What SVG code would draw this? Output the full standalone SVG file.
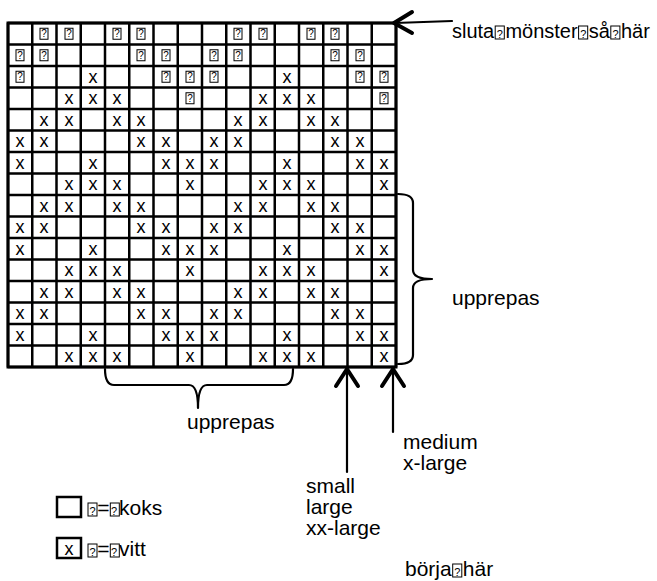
<svg xmlns="http://www.w3.org/2000/svg" width="657" height="581" viewBox="0 0 657 581">
<style>
.bg{fill:#fff}
.grid{fill:none;stroke:#000;stroke-width:2.5}
.x{font-family:"Liberation Sans","DejaVu Sans",sans-serif;font-size:18px;text-anchor:middle;fill:#000}
.tq{font-family:"Liberation Sans","DejaVu Sans",sans-serif;font-size:10px;text-anchor:middle;fill:#000}
.tb{fill:none;stroke:#000;stroke-width:1}
.lbl{font-family:"Liberation Sans","DejaVu Sans",sans-serif;font-size:21px;fill:#000}
.q{font-size:11px}
.ln{fill:none;stroke:#000;stroke-width:2.2;stroke-linecap:round;stroke-linejoin:round}
.hd{fill:none;stroke:#000;stroke-width:4;stroke-linecap:round;stroke-linejoin:round}
</style>
<defs>
<g id="tofu"><rect class="tb" x="-4" y="-5.5" width="8" height="11"/><text class="tq" x="0" y="3.5">?</text></g>
</defs>
<rect class="bg" width="657" height="581"/>
<g id="grid">
<path class="grid" d="M8,23V367M32.25,23V367M56.5,23V367M80.75,23V367M105,23V367M129.25,23V367M153.5,23V367M177.75,23V367M202,23V367M226.25,23V367M250.5,23V367M274.75,23V367M299,23V367M323.25,23V367M347.5,23V367M371.75,23V367M396,23V367"/>
<path class="grid" d="M8,23H396M8,44.5H396M8,66H396M8,87.5H396M8,109H396M8,130.5H396M8,152H396M8,173.5H396M8,195H396M8,216.5H396M8,238H396M8,259.5H396M8,281H396M8,302.5H396M8,324H396M8,345.5H396M8,367H396"/>
<rect x="8" y="23" width="388" height="344" fill="none" stroke="#000" stroke-width="3"/>
</g>
<g id="marks">
<!-- row 0 -->
<use href="#tofu" x="44" y="33.75"/><use href="#tofu" x="69" y="33.75"/><use href="#tofu" x="117" y="33.75"/><use href="#tofu" x="141" y="33.75"/><use href="#tofu" x="238" y="33.75"/><use href="#tofu" x="263" y="33.75"/><use href="#tofu" x="311" y="33.75"/><use href="#tofu" x="335" y="33.75"/>
<!-- row 1 -->
<use href="#tofu" x="20" y="55.25"/><use href="#tofu" x="44" y="55.25"/><use href="#tofu" x="141" y="55.25"/><use href="#tofu" x="166" y="55.25"/><use href="#tofu" x="214" y="55.25"/><use href="#tofu" x="238" y="55.25"/><use href="#tofu" x="335" y="55.25"/><use href="#tofu" x="360" y="55.25"/>
<!-- row 2 -->
<use href="#tofu" x="20" y="76.75"/><text class="x" x="93" y="82.5">x</text><use href="#tofu" x="166" y="76.75"/><use href="#tofu" x="190" y="76.75"/><use href="#tofu" x="214" y="76.75"/><text class="x" x="287" y="82.5">x</text><use href="#tofu" x="360" y="76.75"/><use href="#tofu" x="384" y="76.75"/>
<!-- row 3 -->
<text class="x" x="69" y="104">x</text><text class="x" x="93" y="104">x</text><text class="x" x="117" y="104">x</text><use href="#tofu" x="190" y="98.25"/><text class="x" x="263" y="104">x</text><text class="x" x="287" y="104">x</text><text class="x" x="311" y="104">x</text><use href="#tofu" x="384" y="98.25"/>
<!-- row 4 A -->
<text class="x" x="44" y="125.5">x</text><text class="x" x="69" y="125.5">x</text><text class="x" x="117" y="125.5">x</text><text class="x" x="141" y="125.5">x</text><text class="x" x="238" y="125.5">x</text><text class="x" x="263" y="125.5">x</text><text class="x" x="311" y="125.5">x</text><text class="x" x="335" y="125.5">x</text>
<!-- row 5 B -->
<text class="x" x="20" y="147">x</text><text class="x" x="44" y="147">x</text><text class="x" x="141" y="147">x</text><text class="x" x="166" y="147">x</text><text class="x" x="214" y="147">x</text><text class="x" x="238" y="147">x</text><text class="x" x="335" y="147">x</text><text class="x" x="360" y="147">x</text>
<!-- row 6 C -->
<text class="x" x="20" y="168.5">x</text><text class="x" x="93" y="168.5">x</text><text class="x" x="166" y="168.5">x</text><text class="x" x="190" y="168.5">x</text><text class="x" x="214" y="168.5">x</text><text class="x" x="287" y="168.5">x</text><text class="x" x="360" y="168.5">x</text><text class="x" x="384" y="168.5">x</text>
<!-- row 7 D -->
<text class="x" x="69" y="190">x</text><text class="x" x="93" y="190">x</text><text class="x" x="117" y="190">x</text><text class="x" x="190" y="190">x</text><text class="x" x="263" y="190">x</text><text class="x" x="287" y="190">x</text><text class="x" x="311" y="190">x</text><text class="x" x="384" y="190">x</text>
<!-- row 8 A -->
<text class="x" x="44" y="211.5">x</text><text class="x" x="69" y="211.5">x</text><text class="x" x="117" y="211.5">x</text><text class="x" x="141" y="211.5">x</text><text class="x" x="238" y="211.5">x</text><text class="x" x="263" y="211.5">x</text><text class="x" x="311" y="211.5">x</text><text class="x" x="335" y="211.5">x</text>
<!-- row 9 B -->
<text class="x" x="20" y="233">x</text><text class="x" x="44" y="233">x</text><text class="x" x="141" y="233">x</text><text class="x" x="166" y="233">x</text><text class="x" x="214" y="233">x</text><text class="x" x="238" y="233">x</text><text class="x" x="335" y="233">x</text><text class="x" x="360" y="233">x</text>
<!-- row 10 C -->
<text class="x" x="20" y="254.5">x</text><text class="x" x="93" y="254.5">x</text><text class="x" x="166" y="254.5">x</text><text class="x" x="190" y="254.5">x</text><text class="x" x="214" y="254.5">x</text><text class="x" x="287" y="254.5">x</text><text class="x" x="360" y="254.5">x</text><text class="x" x="384" y="254.5">x</text>
<!-- row 11 D -->
<text class="x" x="69" y="276">x</text><text class="x" x="93" y="276">x</text><text class="x" x="117" y="276">x</text><text class="x" x="190" y="276">x</text><text class="x" x="263" y="276">x</text><text class="x" x="287" y="276">x</text><text class="x" x="311" y="276">x</text><text class="x" x="384" y="276">x</text>
<!-- row 12 A -->
<text class="x" x="44" y="297.5">x</text><text class="x" x="69" y="297.5">x</text><text class="x" x="117" y="297.5">x</text><text class="x" x="141" y="297.5">x</text><text class="x" x="238" y="297.5">x</text><text class="x" x="263" y="297.5">x</text><text class="x" x="311" y="297.5">x</text><text class="x" x="335" y="297.5">x</text>
<!-- row 13 B -->
<text class="x" x="20" y="319">x</text><text class="x" x="44" y="319">x</text><text class="x" x="141" y="319">x</text><text class="x" x="166" y="319">x</text><text class="x" x="214" y="319">x</text><text class="x" x="238" y="319">x</text><text class="x" x="335" y="319">x</text><text class="x" x="360" y="319">x</text>
<!-- row 14 C -->
<text class="x" x="20" y="340.5">x</text><text class="x" x="93" y="340.5">x</text><text class="x" x="166" y="340.5">x</text><text class="x" x="190" y="340.5">x</text><text class="x" x="214" y="340.5">x</text><text class="x" x="287" y="340.5">x</text><text class="x" x="360" y="340.5">x</text><text class="x" x="384" y="340.5">x</text>
<!-- row 15 D -->
<text class="x" x="69" y="362">x</text><text class="x" x="93" y="362">x</text><text class="x" x="117" y="362">x</text><text class="x" x="190" y="362">x</text><text class="x" x="263" y="362">x</text><text class="x" x="287" y="362">x</text><text class="x" x="311" y="362">x</text><text class="x" x="384" y="362">x</text>
</g>
<g id="connectors">
<path class="ln" d="M398,194 Q413,194 413,203 L413,270 Q413,279 432,279 Q413,279 413,288 L413,355 Q413,364 398,364"/>
<path class="ln" d="M105,369 Q105,385 114,385 L189,385 Q198,385 198,408 Q198,385 207,385 L284,385 Q293,385 293,369"/>
<path class="ln" d="M395,23 L452,21"/>
<path class="hd" d="M412,12 L394,23 L412,33"/>
<path class="ln" stroke-width="3" d="M347,370 V472"/>
<path class="hd" d="M336,386 L347,369 L358,386"/>
<path class="ln" stroke-width="3" d="M393,370 V432"/>
<path class="hd" d="M382,386 L393,369 L404,386"/>
</g>
<g id="labels">
<text class="lbl" x="452" y="38" style="font-size:20px">sluta<tspan class="q" dx="2.5">?</tspan><tspan dx="2.5">mönster</tspan><tspan class="q" dx="2.5">?</tspan><tspan dx="2.5">så</tspan><tspan class="q" dx="2.5">?</tspan><tspan dx="2.5">här</tspan></text>
<rect class="tb" x="495.2" y="26" width="9.1" height="13"/>
<rect class="tb" x="578.6" y="26" width="9.1" height="13"/>
<rect class="tb" x="610.8" y="26" width="9.1" height="13"/>
<text class="lbl" x="452" y="305">upprepas</text>
<text class="lbl" x="187" y="429">upprepas</text>
<text class="lbl" x="403" y="449">medium</text>
<text class="lbl" x="403" y="470">x-large</text>
<text class="lbl" x="306" y="493">small</text>
<text class="lbl" x="306" y="514">large</text>
<text class="lbl" x="306" y="535">xx-large</text>
<text class="lbl" x="405" y="576">börja<tspan class="q" dx="2.5">?</tspan><tspan dx="2.5">här</tspan></text>
<rect class="tb" x="452.7" y="564" width="9.1" height="13"/>
</g>
<g id="legend-koks">
<rect x="57" y="497" width="24" height="20" fill="none" stroke="#000" stroke-width="2.5"/>
<text class="lbl" x="88" y="515"><tspan class="q" dx="1.5">?</tspan><tspan dx="1.5">=</tspan><tspan class="q" dx="1.5">?</tspan><tspan dx="2">koks</tspan></text>
<rect class="tb" x="88" y="503" width="9" height="13"/>
<rect class="tb" x="110.3" y="503" width="9" height="13"/>
</g>
<g id="legend-vitt">
<rect x="57" y="538" width="24" height="20" fill="none" stroke="#000" stroke-width="2.5"/>
<text class="x" x="69" y="555">x</text>
<text class="lbl" x="88" y="556"><tspan class="q" dx="1.5">?</tspan><tspan dx="1.5">=</tspan><tspan class="q" dx="1.5">?</tspan><tspan dx="2">vitt</tspan></text>
<rect class="tb" x="88" y="544" width="9" height="13"/>
<rect class="tb" x="110.3" y="544" width="9" height="13"/>
</g>
</svg>
